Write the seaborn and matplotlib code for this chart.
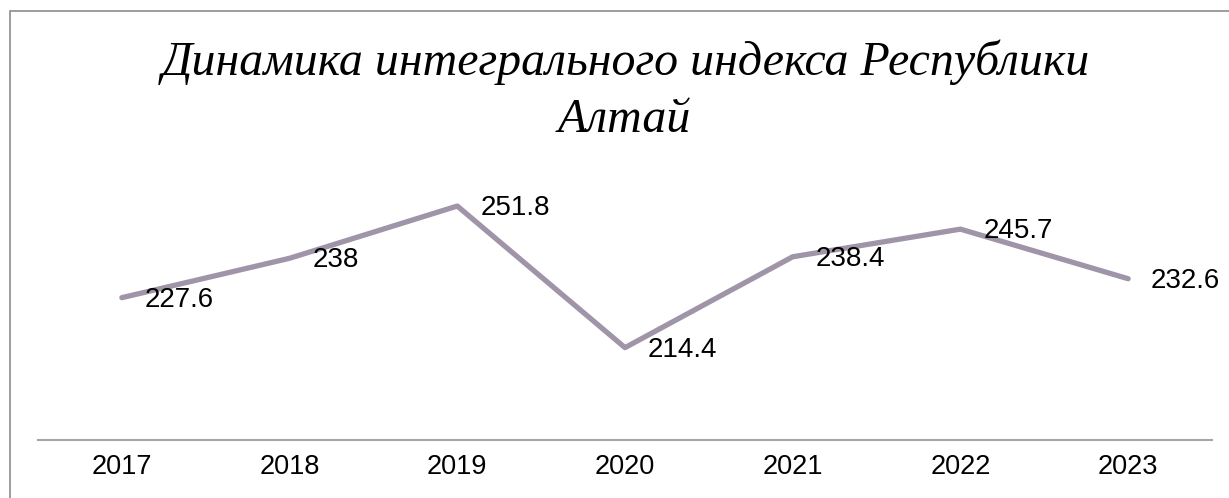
import matplotlib
matplotlib.use("Agg")
import matplotlib.pyplot as plt
import matplotlib.patches as patches
import pandas as pd
import seaborn as sns

years = ['2017', '2018', '2019', '2020', '2021', '2022', '2023']
index_values = [227.6, 238, 251.8, 214.4, 238.4, 245.7, 232.6]
value_labels = ['227.6', '238', '251.8', '214.4', '238.4', '245.7', '232.6']
title_lines = ['Динамика интегрального индекса Республики', 'Алтай']

sns.set_theme(style="white")
plt.rcParams['font.family'] = ['Liberation Sans', 'DejaVu Sans']

data = pd.DataFrame({'Year': years, 'Index': index_values})

fig = plt.figure(figsize=(12.29, 4.98), dpi=100)
ax = fig.add_axes([38/1229, 58/498, (1212-38)/1229, (440-175)/498])

line_color = '#9f94a8'
sns.lineplot(data=data, x='Year', y='Index', ax=ax, sort=False,
             color=line_color, linewidth=3.8)

# data labels to the right of each point
for i, (v, lab) in enumerate(zip(index_values, value_labels)):
    ax.annotate(lab, (i, v), xytext=(16.5, -1.5), textcoords='offset points',
                ha='left', va='center', fontsize=20, color='black',
                annotation_clip=False)

ax.set_xlim(-0.5, 6.5)
ax.set_ylim(190, 260)
ax.set_xlabel('')
ax.set_ylabel('')
ax.set_yticks([])
ax.tick_params(axis='x', length=0, labelsize=19.5, pad=10, colors='black')
for s in ['top', 'left', 'right']:
    ax.spines[s].set_visible(False)
ax.spines['bottom'].set_color('#a6a6a6')
ax.spines['bottom'].set_linewidth(1.5)

# title, two lines, baselines placed separately
for txt, xc, yb in zip(title_lines, [626, 624], [75, 132]):
    fig.text(xc/1229, 1 - yb/498, txt, ha='center', va='baseline',
             fontsize=34.5, style='italic', color='black',
             family=['Liberation Serif', 'DejaVu Serif'])

# chart-area border: only left and top edges fall inside the picture
fig.patches.append(patches.Rectangle((10/1229, -0.05), 1.05, (487+25)/498,
                                     transform=fig.transFigure, fill=False,
                                     edgecolor='#8c8c8c', linewidth=1.2))

fig.savefig('out.png', dpi=100)
